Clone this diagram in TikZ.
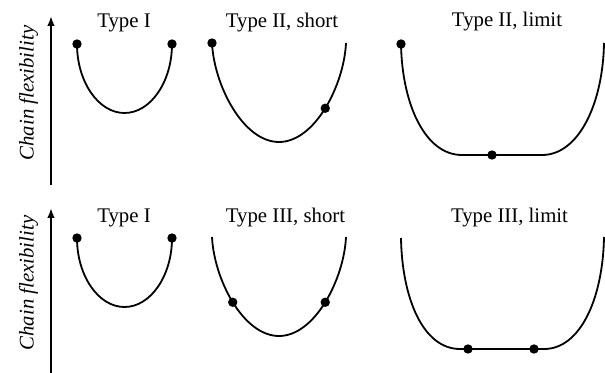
\documentclass[tikz,border=0pt]{standalone}
\usepackage{fontspec}
\setmainfont{Liberation Serif}
\usetikzlibrary{arrows.meta}
\tikzset{
  curve/.style={line width=0.9pt},
  dot/.style={circle,fill=black,inner sep=0pt,minimum size=4.7pt},
  ax/.style={-{Latex[length=5pt,width=3.8pt]},line width=0.9pt},
  ttl/.style={anchor=base,font=\fontsize{10.4}{12}\selectfont},
  ylbl/.style={rotate=90,anchor=base,font=\fontsize{10.4}{12}\selectfont\itshape},
}
\begin{document}
\begin{tikzpicture}[x=0.5pt,y=-0.5pt]
\useasboundingbox (0,0) rectangle (605,373);

% top row
\coordinate (a1) at (51,185);
\coordinate (a2) at (51,16);
\draw[ax] (a1) -- (a2);
\node[ylbl] (yl1) at (33.5,93) {Chain flexibility};

\node[ttl] (t1) at (124,28) {Type I};
\node[ttl] (t2) at (282,28) {Type II, short};
\node[ttl] (t3) at (507,27) {Type II, limit};

% type I
\coordinate (L1) at (77,44);
\coordinate (B1) at (124.5,113);
\coordinate (R1) at (172,44);
\draw[curve] (L1) .. controls +(0,38) and +(-26,0) .. (B1)
                  .. controls +(26,0) and +(0,38) .. (R1);
\node[dot] (d1) at (L1) {};
\node[dot] (d2) at (R1) {};

% type II, short
\coordinate (L2) at (212,43);
\coordinate (B2) at (279,142);
\coordinate (R2) at (346,43);
\draw[curve] (L2) .. controls +(2,42) and +(-36,0) .. (B2)
                  .. controls +(36,0) and +(-2,42) .. (R2)
                  coordinate[pos=.5] (s2);
\node[dot] (d3) at (L2) {};
\node[dot] (d4) at (s2) {};

% type II, limit
\coordinate (L3) at (401,44);
\coordinate (F3) at (462,155);
\coordinate (G3) at (542,155);
\coordinate (R3) at (604,43);
\draw[curve] (L3) .. controls +(1,60) and +(-37,0) .. (F3) -- (G3)
                  .. controls +(37,0) and +(-1,60) .. (R3);
\node[dot] (d5) at (L3) {};
\node[dot] (d6) at (492,155) {};

% bottom row
\coordinate (a3) at (51,373);
\coordinate (a4) at (51,208);
\draw[ax] (a3) -- (a4);
\node[ylbl] (yl2) at (33.5,283) {Chain flexibility};

\node[ttl] (t4) at (124,223) {Type I};
\node[ttl] (t5) at (285.5,223) {Type III, short};
\node[ttl] (t6) at (509.5,223) {Type III, limit};

% type I
\coordinate (L4) at (77,238);
\coordinate (B4) at (124.5,307);
\coordinate (R4) at (172,238);
\draw[curve] (L4) .. controls +(0,38) and +(-26,0) .. (B4)
                  .. controls +(26,0) and +(0,38) .. (R4);
\node[dot] (d7) at (L4) {};
\node[dot] (d8) at (R4) {};

% type III, short
\coordinate (L5) at (212,237);
\coordinate (B5) at (279,336);
\coordinate (R5) at (346,237);
\draw[curve] (L5) .. controls +(2,42) and +(-36,0) .. (B5)
                  coordinate[pos=.5] (s5)
                  .. controls +(36,0) and +(-2,42) .. (R5)
                  coordinate[pos=.5] (s6);
\node[dot] (d9) at (s5) {};
\node[dot] (d10) at (s6) {};

% type III, limit
\coordinate (L6) at (401,238);
\coordinate (F6) at (460,349);
\coordinate (G6) at (544,349);
\coordinate (R6) at (604,237);
\draw[curve] (L6) .. controls +(1,60) and +(-37,0) .. (F6) -- (G6)
                  .. controls +(37,0) and +(-1,60) .. (R6);
\node[dot] (d11) at (468,349) {};
\node[dot] (d12) at (534,349) {};
\end{tikzpicture}
\end{document}
